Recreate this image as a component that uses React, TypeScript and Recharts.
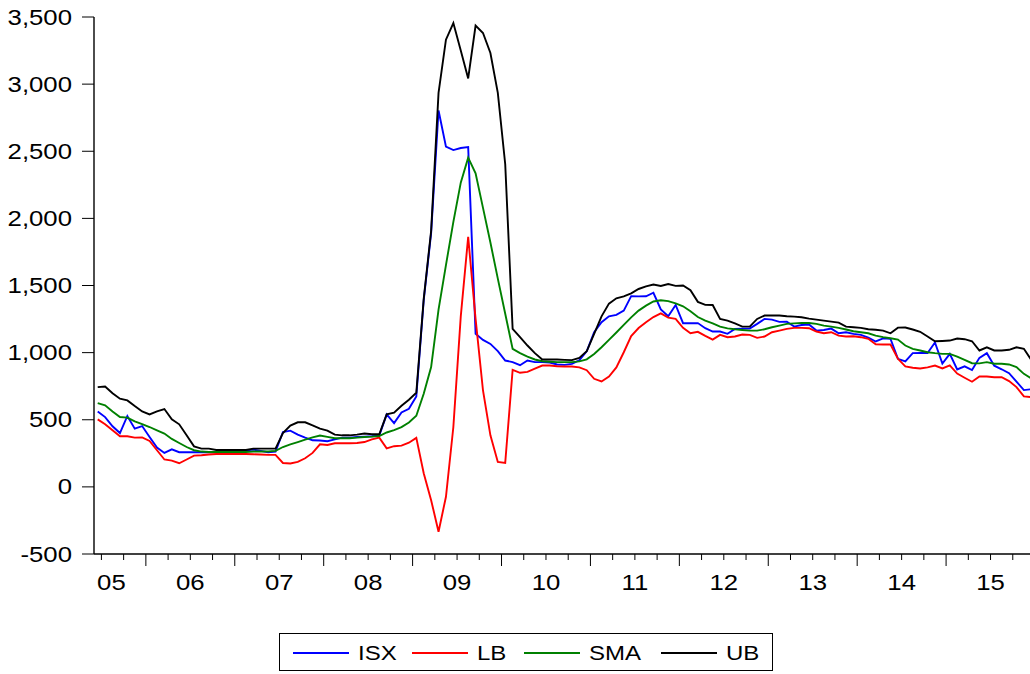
import { Line, LineChart, XAxis, YAxis } from "recharts";

// monthly observations, 2005M6 .. 2015M12
const ISX = [
  562, 520, 451, 401, 528, 434, 453, 372, 293, 253,
  280, 258, 258, 258, 258, 258, 258, 258, 262, 265,
  270, 278, 268, 258, 263, 409, 419, 389, 367, 347,
  345, 340, 354, 367, 367, 372, 374, 377, 382, 540,
  475, 554, 582, 674, 1390, 1890, 2804, 2534, 2509, 2524,
  2531, 1140, 1095, 1065, 1011, 941, 929, 906, 941, 929,
  929, 926, 912, 909, 916, 943, 1010, 1152, 1226, 1270,
  1281, 1313, 1421, 1419, 1420, 1446, 1322, 1271, 1355, 1219,
  1219, 1220, 1182, 1157, 1157, 1140, 1177, 1179, 1179, 1214,
  1251, 1246, 1229, 1231, 1194, 1206, 1209, 1164, 1169, 1179,
  1144, 1152, 1140, 1132, 1112, 1083, 1106, 1103, 954, 935,
  996, 997, 997, 1075, 919, 991, 875, 898, 870, 961,
  996, 903, 876, 847, 784, 721, 727,
];

const LB = [
  503, 466, 421, 377, 377, 367, 369, 342, 273, 204,
  196, 176, 204, 233, 236, 241, 245, 245, 245, 245,
  245, 243, 241, 238, 238, 178, 174, 186, 213, 253,
  317, 312, 325, 325, 325, 327, 334, 354, 367, 287,
  303, 307, 329, 365, 102, -99, -334, -74, 446, 1270,
  1862, 1252, 718, 384, 186, 179, 872, 850, 857, 880,
  904, 904, 899, 897, 897, 890, 869, 805, 785, 822,
  890, 1003, 1123, 1183, 1226, 1265, 1292, 1261, 1252, 1185,
  1144, 1155, 1125, 1097, 1132, 1115, 1120, 1135, 1132, 1110,
  1120, 1152, 1164, 1177, 1184, 1184, 1182, 1157, 1144, 1152,
  1127, 1120, 1122, 1115, 1103, 1062, 1060, 1060, 954, 898,
  887, 882, 890, 904, 882, 905, 844, 813, 783, 822,
  822, 817, 817, 788, 743, 674, 669,
];

const SMA = [
  624, 607, 562, 520, 516, 488, 468, 446, 421, 397,
  357, 327, 297, 273, 263, 260, 260, 260, 260, 260,
  260, 263, 263, 263, 268, 297, 317, 334, 352, 369,
  382, 372, 362, 362, 362, 367, 372, 374, 379, 405,
  422, 445, 480, 530, 694, 892, 1320, 1652, 1974, 2266,
  2452, 2336, 2078, 1820, 1551, 1290, 1028, 996, 971, 949,
  936, 932, 929, 929, 929, 935, 950, 990, 1040, 1095,
  1150, 1207, 1263, 1313, 1350, 1381, 1390, 1384, 1367, 1345,
  1308, 1265, 1238, 1218, 1194, 1181, 1174, 1169, 1164, 1164,
  1174, 1189, 1201, 1214, 1218, 1221, 1221, 1214, 1201, 1194,
  1184, 1172, 1159, 1152, 1144, 1127, 1115, 1107, 1097, 1053,
  1028, 1016, 1003, 996, 991, 991, 971, 946, 921, 920,
  929, 917, 917, 912, 892, 842, 808,
];

const UB = [
  743, 748, 698, 657, 644, 602, 562, 540, 562, 580,
  503, 466, 384, 302, 285, 285, 275, 275, 275, 275,
  275, 285, 285, 285, 285, 401, 456, 481, 481, 458,
  434, 419, 389, 384, 384, 389, 397, 392, 392, 540,
  553, 604, 649, 701, 1400, 1907, 2935, 3331, 3455, 3250,
  3042, 3436, 3381, 3232, 2935, 2403, 1177, 1115, 1053, 996,
  949, 949, 949, 946, 944, 961, 1010, 1140, 1270, 1365,
  1405, 1419, 1442, 1474, 1493, 1507, 1496, 1511, 1497, 1500,
  1465, 1378, 1356, 1355, 1251, 1238, 1218, 1194, 1194, 1251,
  1276, 1276, 1276, 1271, 1268, 1263, 1253, 1246, 1238, 1231,
  1224, 1194, 1189, 1184, 1174, 1170, 1164, 1144, 1186, 1187,
  1172, 1155, 1120, 1085, 1087, 1090, 1105, 1100, 1085, 1016,
  1040, 1016, 1016, 1021, 1040, 1029, 945,
];

const YEAR_LABELS = ["05", "06", "07", "08", "09", "10", "11", "12", "13", "14", "15"];
const Y_TICKS = [-500, 0, 500, 1000, 1500, 2000, 2500, 3000, 3500];

// months counted from 2005M6; quarter boundaries get a tick, Januaries a long one
const N_MONTHS = 127;
const QUARTER_TICKS: number[] = [];
for (let t = 1; t <= N_MONTHS; t += 3) QUARTER_TICKS.push(t);

const data = ISX.map((v, i) => ({
  t: i + 0.5,
  ISX: v,
  LB: LB[i],
  SMA: SMA[i],
  UB: UB[i],
}));

const FONT = "'Liberation Sans', Arial, sans-serif";
const STRETCH = 1.17;

const SERIES = [
  { key: "ISX", color: "#0000ff" },
  { key: "LB", color: "#ff0000" },
  { key: "SMA", color: "#008000" },
  { key: "UB", color: "#000000" },
];

const XTick = ({ x, y, payload }: any) => {
  const t = payload.value;
  const major = (t - 7) % 12 === 0;
  const yearIdx = (t - 1) % 12 === 0 ? (t - 1) / 12 : -1;
  const label = yearIdx >= 0 ? YEAR_LABELS[yearIdx] : null;
  const dx = yearIdx === 0 ? 10 : 0;
  return (
    <g>
      <line x1={x} x2={x} y1={y} y2={y + (major ? 12 : 6)} stroke="#000" strokeWidth={1} />
      {label && (
        <text
          transform={`translate(${x + dx},${y + 36}) scale(${STRETCH},1)`}
          textAnchor="middle"
          fontSize={22}
          fontFamily={FONT}
          fill="#000"
        >
          {label}
        </text>
      )}
    </g>
  );
};

const YTick = ({ x, y, payload }: any) => (
  <g>
    <line x1={x - 12} x2={x} y1={y} y2={y} stroke="#000" strokeWidth={1} />
    <text
      transform={`translate(${x - 22},${y + 7.5}) scale(${STRETCH},1)`}
      textAnchor="end"
      fontSize={22}
      fontFamily={FONT}
      fill="#000"
    >
      {Number(payload.value).toLocaleString("en-US")}
    </text>
  </g>
);

function ChartLegend() {
  const items = [
    { name: "ISX", color: "#0000ff", x: 14 },
    { name: "LB", color: "#ff0000", x: 133 },
    { name: "SMA", color: "#008000", x: 245 },
    { name: "UB", color: "#000000", x: 382 },
  ];
  return (
    <svg
      width={495}
      height={39}
      style={{ position: "absolute", left: 279, top: 633 }}
    >
      <rect x={0.5} y={0.5} width={493} height={37} fill="#fff" stroke="#000" strokeWidth={1} />
      {items.map((it) => (
        <g key={it.name}>
          <line x1={it.x} x2={it.x + 56} y1={20} y2={20} stroke={it.color} strokeWidth={1.8} />
          <text
            transform={`translate(${it.x + 65},27) scale(1.2,1)`}
            fontSize={20}
            fontFamily={FONT}
            fill="#000"
          >
            {it.name}
          </text>
        </g>
      ))}
    </svg>
  );
}

export default function App() {
  return (
    <div
      style={{
        position: "fixed",
        left: 0,
        top: 0,
        width: 1030,
        height: 674,
        overflow: "hidden",
        background: "#fff",
      }}
    >
      <LineChart
        width={1040}
        height={674}
        data={data}
        margin={{ top: 17, right: 5, left: 0, bottom: 60 }}
      >
        <XAxis
          xAxisId="top"
          orientation="top"
          dataKey="t"
          type="number"
          domain={[0, N_MONTHS]}
          height={0}
          tick={false}
          tickLine={false}
          axisLine={{ stroke: "#000", strokeWidth: 1.4 }}
        />
        <XAxis
          xAxisId="main"
          dataKey="t"
          type="number"
          domain={[0, N_MONTHS]}
          ticks={QUARTER_TICKS}
          interval={0}
          height={60}
          tickSize={0}
          tickMargin={0}
          tickLine={false}
          tick={<XTick />}
          axisLine={{ stroke: "#000", strokeWidth: 1.4 }}
        />
        <YAxis
          domain={[-500, 3500]}
          ticks={Y_TICKS}
          interval={0}
          width={94}
          tickSize={0}
          tickMargin={0}
          tickLine={false}
          tick={<YTick />}
          axisLine={{ stroke: "#000", strokeWidth: 1.4 }}
        />
        {SERIES.map((s) => (
          <Line
            key={s.key}
            xAxisId="main"
            dataKey={s.key}
            stroke={s.color}
            strokeWidth={1.9}
            dot={false}
            type="linear"
            isAnimationActive={false}
          />
        ))}
      </LineChart>
      <ChartLegend />
    </div>
  );
}
